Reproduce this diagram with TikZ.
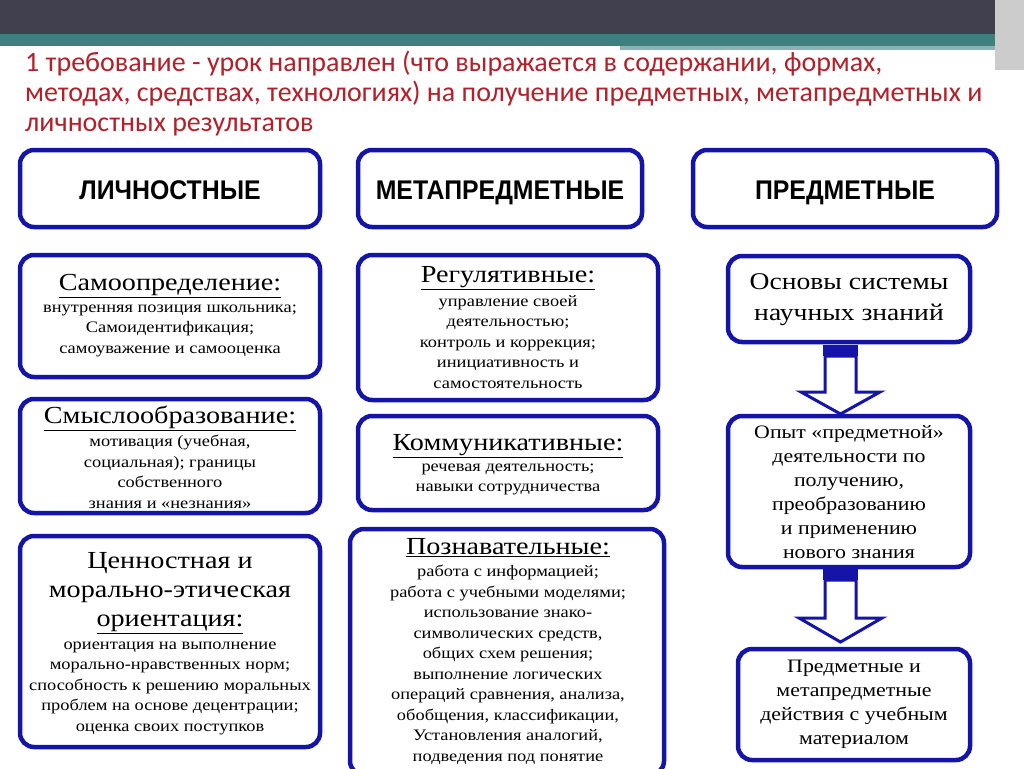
\documentclass[tikz,border=0pt]{standalone}
\usepackage{fontspec}
\setmainfont[FakeStretch=1.15]{Liberation Serif}
\newfontfamily\titlefont{Carlito}
\newfontfamily\headfont[FakeStretch=0.92]{Liberation Sans}
\definecolor{bblue}{HTML}{1414A8}
\definecolor{ttred}{HTML}{B3202A}
\definecolor{topbar}{HTML}{40404F}
\definecolor{teal}{HTML}{3F7F80}
\begin{document}
\begin{tikzpicture}[x=1pt,y=-1pt,
  box/.style={draw=bblue,line width=4.5pt,rounded corners=14pt,fill=white},
  head/.style={font=\headfont\bfseries\fontsize{27}{29}\selectfont,text=black},
  ttl/.style={font=\fontsize{24.5}{25}\selectfont,align=center},
  body/.style={font=\fontsize{16}{20.5}\selectfont,align=center},
  darr/.style={draw=bblue,line width=3pt,fill=white}]
\useasboundingbox (0,0) rectangle (1024,768);
\fill[white] (0,0) rectangle (1024,768);
\fill[topbar] (0,0) rectangle (1024,34);
\fill[teal] (0,34) rectangle (1024,46);
\fill[teal!60] (620,46) rectangle (1000,50);
\draw[white,line width=2pt] (620,53) -- (960,53);
\fill[gray!40] (995,0) rectangle (1024,70);
\node[anchor=north west,font=\titlefont\fontsize{28}{30}\selectfont,text=ttred,align=left,inner sep=0] (title) at (25,51)
 {1 требование - урок направлен (что выражается в содержании, формах,\\методах, средствах, технологиях) на получение предметных, метапредметных и\\личностных результатов};
% headers
\draw[box] (20,150) rectangle (320,227); \node[head,anchor=base] (h1) at (170,199) {ЛИЧНОСТНЫЕ};
\draw[box] (358,150) rectangle (642,227); \node[head,anchor=base] (h2) at (500,199) {МЕТАПРЕДМЕТНЫЕ};
\draw[box] (693,150) rectangle (997,227); \node[head,anchor=base] (h3) at (845,199) {ПРЕДМЕТНЫЕ};
% left column
\draw[box] (20,255) rectangle (320,377);
\node[ttl] (l1t) at (170,286) {\underline{Самоопределение:}};
\node[body,anchor=north] (l1b) at (170,301) {внутренняя позиция школьника;\\Самоидентификация;\\самоуважение и самооценка};
\draw[box] (20,399) rectangle (320,513);
\node[ttl] (l2t) at (170,418) {\underline{Смыслообразование:}};
\node[body,anchor=north] (l2b) at (170,432) {мотивация (учебная,\\социальная); границы\\собственного\\знания и «незнания»};
\draw[box] (20,536) rectangle (320,747);
\node[ttl,font=\fontsize{24.5}{29}\selectfont] (l3t) at (170,593) {Ценностная и\\морально-этическая\\\underline{ориентация:}};
\node[body,anchor=north] (l3b) at (170,638) {ориентация на выполнение\\морально-нравственных норм;\\способность к решению моральных\\проблем на основе децентрации;\\оценка своих поступков};
% middle column
\draw[box] (358,255) rectangle (658,400);
\node[ttl] (m1t) at (508,278) {\underline{Регулятивные:}};
\node[body,anchor=north] (m1b) at (508,292) {управление своей\\деятельностью;\\контроль и коррекция;\\инициативность и\\самостоятельность};
\draw[box] (358,416) rectangle (658,510);
\node[ttl] (m2t) at (508,446) {\underline{Коммуникативные:}};
\node[body,anchor=north] (m2b) at (508,460) {речевая деятельность;\\навыки сотрудничества};
\draw[box] (350,529) rectangle (664,775);
\node[ttl] (m3t) at (508,548) {\underline{Познавательные:}};
\node[body,anchor=north] (m3b) at (508,562) {работа с информацией;\\работа с учебными моделями;\\использование знако-\\символических средств,\\общих схем решения;\\выполнение логических\\операций сравнения, анализа,\\обобщения, классификации,\\Установления аналогий,\\подведения под понятие};
% right column
\draw[box] (728,256) rectangle (970,342);
\node[body,font=\fontsize{24}{31}\selectfont] (r1) at (849,300) {Основы системы\\научных знаний};
\draw[box] (728,416) rectangle (970,567);
\node[body,font=\fontsize{19}{24}\selectfont] (r2) at (849,492) {Опыт «предметной»\\деятельности по\\получению,\\преобразованию\\и применению\\нового знания};
\draw[box] (738,649) rectangle (970,760);
\node[body,font=\fontsize{19}{24}\selectfont] (r3) at (854,704) {Предметные и\\метапредметные\\действия с учебным\\материалом};
% arrows
\fill[bblue] (823,345) rectangle (858,356);
\draw[darr] (825,356) -- (856,356) -- (856,392) -- (880,392) -- (840.5,414) -- (801,392) -- (825,392) -- cycle;
\fill[bblue] (823,569) rectangle (858,580);
\draw[darr] (825,580) -- (856,580) -- (856,618) -- (882,618) -- (840.5,642) -- (799,618) -- (825,618) -- cycle;
\end{tikzpicture}
\end{document}
